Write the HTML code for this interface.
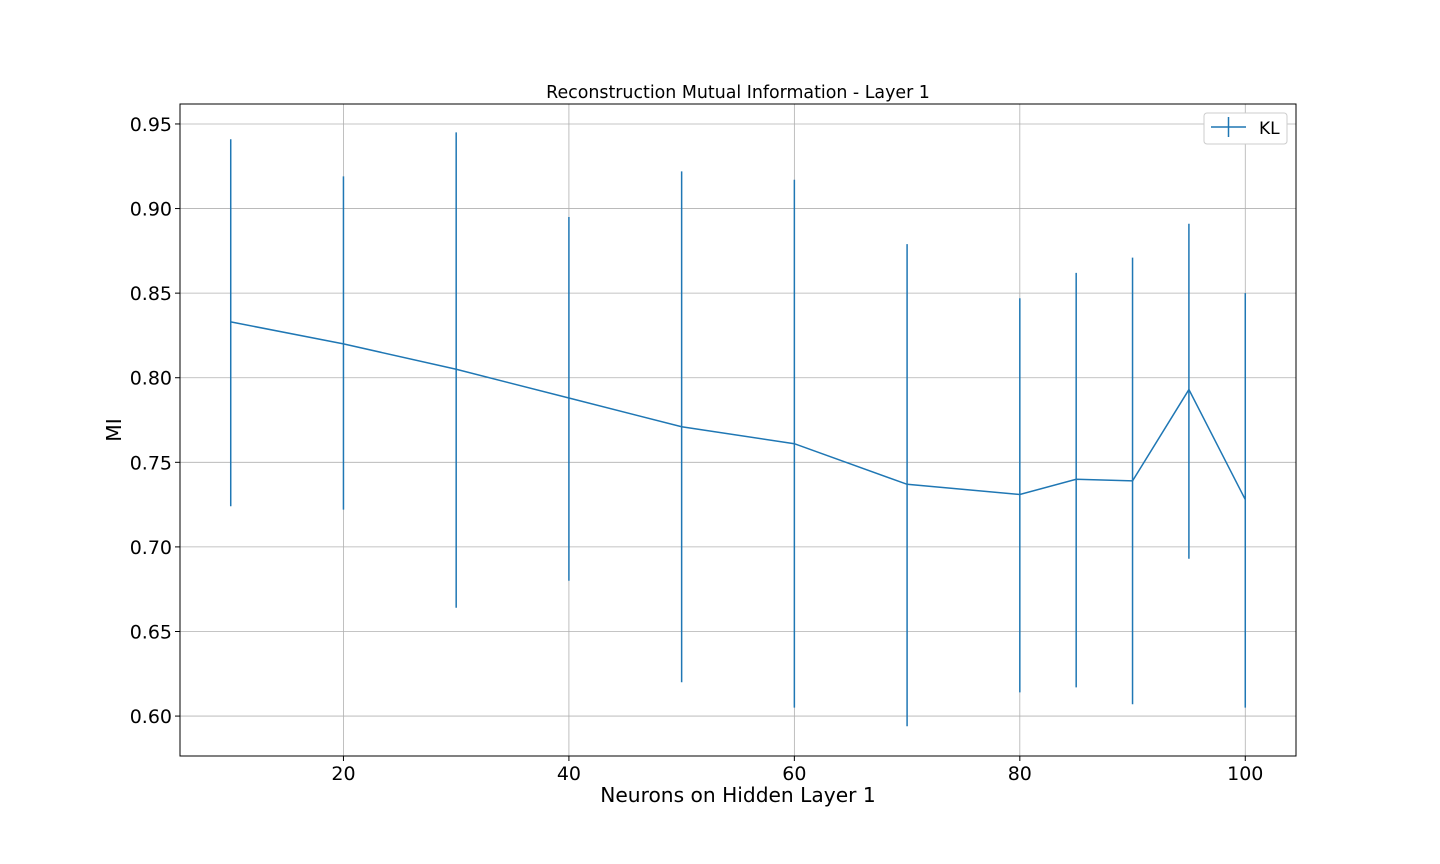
<!DOCTYPE html>
<html><head><meta charset="utf-8"><style>
body{margin:0;background:#fff;}
svg{display:block;font-family:"DejaVu Sans","Liberation Sans",sans-serif;}
</style></head><body>
<svg id="chart" width="1440" height="864">
<rect width="1440" height="864" fill="#fff"/>
<g id="grid"></g>
<g id="marks"></g>
<rect x="180" y="104" width="1116" height="652" fill="none" stroke="#000" stroke-width="1"/>
<g id="ticks"></g>
<text x="738" y="98" text-anchor="middle" font-size="17.4">Reconstruction Mutual Information - Layer 1</text>
<text x="738" y="802" text-anchor="middle" font-size="20.2">Neurons on Hidden Layer 1</text>
<text transform="translate(121,430) rotate(-90)" text-anchor="middle" font-size="20.2">MI</text>
<g>
<rect x="1204" y="113" width="83" height="31" rx="3" fill="#fff" stroke="#ccc"/>
<line x1="1211" y1="127" x2="1246" y2="127" stroke="#1f77b4" stroke-width="1.5"/>
<line x1="1228.5" y1="117" x2="1228.5" y2="137" stroke="#1f77b4" stroke-width="1.5"/>
<text x="1259" y="134" font-size="17">KL</text>
</g>
</svg>
<script>
const categories=[10,20,30,40,50,60,70,80,85,90,95,100];
const values=[0.833,0.820,0.805,0.788,0.771,0.761,0.737,0.731,0.740,0.739,0.793,0.728];
const upper=[0.941,0.919,0.945,0.895,0.922,0.917,0.879,0.847,0.862,0.871,0.891,0.850];
const lower=[0.724,0.722,0.664,0.680,0.620,0.605,0.594,0.614,0.617,0.607,0.693,0.605];
const xTicks=[20,40,60,80,100];
const yTicks=[0.60,0.65,0.70,0.75,0.80,0.85,0.90,0.95];
const L=180,R=1296,T=104,B=756;
const xMin=5.5,xMax=104.5,yMin=0.5764,yMax=0.9618;
const sx=v=>L+(v-xMin)/(xMax-xMin)*(R-L);
const sy=v=>B-(v-yMin)/(yMax-yMin)*(B-T);
const NS="http://www.w3.org/2000/svg";
function mk(tag,attrs,parent){const e=document.createElementNS(NS,tag);for(const k in attrs)e.setAttribute(k,attrs[k]);parent.appendChild(e);return e;}
const grid=document.getElementById('grid'),ticks=document.getElementById('ticks'),marks=document.getElementById('marks');
xTicks.forEach(t=>{const x=sx(t);
 const g=mk('line',{x1:x,x2:x,y1:T,y2:B,stroke:'#b0b0b0','stroke-width':0.8},grid);
 
 
 const tk=mk('line',{x1:x,x2:x,y1:B,y2:B+5,stroke:'#000'},ticks);
 
 
 const tx=mk('text',{x:x,y:B+24,'text-anchor':'middle','font-size':19},ticks);tx.textContent=t;
 
 
});
yTicks.forEach(t=>{const y=sy(t);
 const g=mk('line',{x1:L,x2:R,y1:y,y2:y,stroke:'#b0b0b0','stroke-width':0.8},grid);
 
 
 const tk=mk('line',{x1:L-5,x2:L,y1:y,y2:y,stroke:'#000'},ticks);
 
 
 const tx=mk('text',{x:L-8,y:y+7,'text-anchor':'end','font-size':19},ticks);tx.textContent=t.toFixed(2);
 
 
});
categories.forEach((c,i)=>{const x=sx(c);
 const e=mk('line',{x1:x,x2:x,y1:sy(upper[i]),y2:sy(lower[i]),stroke:'#1f77b4','stroke-width':1.5},marks);
 
 
});
const pts=categories.map((c,i)=>sx(c)+','+sy(values[i])).join(' ');
const pl=mk('polyline',{points:pts,fill:'none',stroke:'#1f77b4','stroke-width':1.5},marks);


</script>
</body></html>
